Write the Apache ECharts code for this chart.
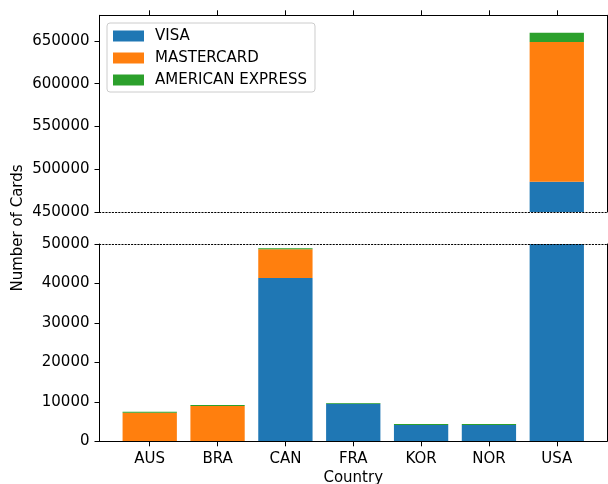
<!DOCTYPE html>
<html>
<head>
<meta charset="utf-8">
<script src="https://cdn.jsdelivr.net/npm/echarts@6/dist/echarts.min.js"></script>
<style>html,body{margin:0;padding:0;background:#fff;}#c{width:608px;height:484px;}</style>
</head>
<body>
<div id="c"></div>
<script>
var countries = ['AUS','BRA','CAN','FRA','KOR','NOR','USA'];
var visa = [0, 0, 41400, 9500, 4130, 4130, 485400];
var mastercard = [7250, 8950, 7300, 0, 0, 0, 163400];
var amex = [250, 240, 250, 180, 250, 250, 10900];
var topTicks = [450000, 500000, 550000, 600000, 650000];
var bottomTicks = [0, 10000, 20000, 30000, 40000, 50000];
var seriesNames = ['VISA', 'MASTERCARD', 'AMERICAN EXPRESS'];

var FONT = 'DejaVu Sans';
var FS = 15;
var colors = ['#1f77b4', '#ff7f0e', '#2ca02c'];

var TOP_MIN = 450000, TOP_MAX = 680000;
var BOT_MIN = 0, BOT_MAX = 50000;

// frame area (spines) and data area (bands)
var FL = 99.5, FR = 1;
var DL = 115.8, DR = 17.3;
var topG = { top: 15.3, height: 196.7 };
var botG = { top: 244, height: 197.3 };

function grid(l, r, g) {
  return { left: l, right: r, top: g.top, height: g.height, outerBoundsMode: 'none', containLabel: false };
}
var solid = { color: '#000', width: 1 };
var dotted = { color: '#000', width: 1.2, type: [1.2, 2] };
var lblStyle = { fontFamily: FONT, fontSize: FS, color: '#000' };

function frameX(gi, pos, lineStyle) {
  return { type: 'value', gridIndex: gi, position: pos, min: 0, max: 1,
    splitLine: { show: false }, axisTick: { show: false }, axisLabel: { show: false },
    axisLine: { show: true, onZero: false, lineStyle: lineStyle }, z: 5 };
}
function frameY(gi, pos, min, max, ticks) {
  var a = { type: 'value', gridIndex: gi, position: pos, min: min, max: max,
    splitLine: { show: false },
    axisLine: { show: true, onZero: false, lineStyle: solid }, z: 5 };
  if (ticks) {
    a.axisTick = { show: true, inside: false, length: 5, lineStyle: solid, customValues: ticks };
    a.axisLabel = { show: true, customValues: ticks, margin: 10, fontFamily: FONT, fontSize: FS, color: '#000',
      formatter: function (v) { return String(v); } };
  } else {
    a.axisTick = { show: false };
    a.axisLabel = { show: false };
  }
  return a;
}
function dataX(gi, pos, showLabels) {
  var a = { type: 'category', gridIndex: gi, position: pos, data: countries, boundaryGap: true,
    axisLine: { show: false, onZero: false },
    axisTick: { show: true, alignWithLabel: true, inside: false, length: 5, lineStyle: solid },
    axisLabel: { show: showLabels, margin: 10, fontFamily: FONT, fontSize: FS, color: '#000' },
    splitLine: { show: false }, z: 5 };
  if (showLabels) {
    a.name = 'Country';
    a.nameLocation = 'middle';
    a.nameGap = 29;
    a.nameTextStyle = lblStyle;
  }
  return a;
}
function dataY(gi, min, max) {
  return { type: 'value', gridIndex: gi, min: min, max: max, show: false, splitLine: { show: false } };
}

var option = {
  animation: false,
  color: colors,
  textStyle: { fontFamily: FONT },
  legend: {
    orient: 'vertical', left: 107, top: 23,
    itemWidth: 31, itemHeight: 11, itemGap: 6,
    padding: [5, 8, 4, 6],
    borderColor: '#cccccc', borderWidth: 1, borderRadius: 3,
    icon: 'rect',
    textStyle: { fontFamily: FONT, fontSize: FS, color: '#000', lineHeight: 16, padding: [0, 0, 0, 6] },
    data: seriesNames
  },
  grid: [
    grid(DL, DR, topG),   // 0 data top
    grid(DL, DR, botG),   // 1 data bottom
    grid(FL, FR, topG),   // 2 frame top
    grid(FL, FR, botG)    // 3 frame bottom
  ],
  xAxis: [
    dataX(0, 'top', false),          // 0
    dataX(1, 'bottom', true),        // 1
    frameX(2, 'top', solid),         // 2
    frameX(2, 'bottom', dotted),     // 3
    frameX(3, 'top', dotted),        // 4
    frameX(3, 'bottom', solid)       // 5
  ],
  yAxis: [
    dataY(0, TOP_MIN, TOP_MAX),                         // 0
    dataY(1, BOT_MIN, BOT_MAX),                         // 1
    frameY(2, 'left', TOP_MIN, TOP_MAX, topTicks),      // 2
    frameY(2, 'right', TOP_MIN, TOP_MAX, null),         // 3
    frameY(3, 'left', BOT_MIN, BOT_MAX, bottomTicks),   // 4
    frameY(3, 'right', BOT_MIN, BOT_MAX, null)          // 5
  ],
  graphic: [{
    type: 'text', x: 18, y: 228, rotation: Math.PI / 2,
    style: { text: 'Number of Cards', fontFamily: FONT, fontSize: FS, fill: '#000', align: 'center', verticalAlign: 'middle' }
  }],
  series: []
};

var vals = [visa, mastercard, amex];
[0, 1].forEach(function (g) {
  seriesNames.forEach(function (n, k) {
    option.series.push({
      type: 'bar', name: n, stack: 'g' + g,
      xAxisIndex: g, yAxisIndex: g,
      barWidth: 54.3, clip: true,
      itemStyle: { color: colors[k] },
      data: vals[k].slice()
    });
  });
});

var chart = echarts.init(document.getElementById('c'), null, { renderer: 'canvas' });
chart.setOption(option);
</script>
</body>
</html>
